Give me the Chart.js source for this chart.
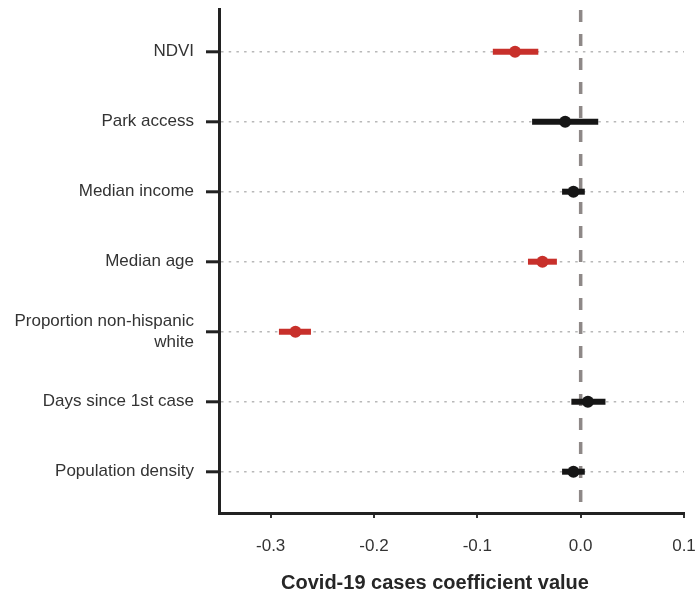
<!DOCTYPE html>
<html><head><meta charset="utf-8">
<script src="https://cdn.jsdelivr.net/npm/chart.js@4/dist/chart.umd.min.js"></script>
<style>html,body{margin:0;padding:0;background:#fff}canvas{display:block}</style>
</head><body>
<canvas id="c" width="696" height="604"></canvas>
<script>
const categories = ["NDVI", "Park access", "Median income", "Median age", ["Proportion non-hispanic", "white"], "Days since 1st case", "Population density"];
const estimates = [-0.0635, -0.015, -0.007, -0.037, -0.276, 0.007, -0.007];
const lowerCI   = [-0.085, -0.047, -0.018, -0.051, -0.292, -0.009, -0.018];
const upperCI   = [-0.041, 0.017, 0.004, -0.023, -0.261, 0.024, 0.004];
const significant = [true, false, false, true, true, false, false];
const xTicks = [-0.3, -0.2, -0.1, 0.0, 0.1];
const xTitle = "Covid-19 cases coefficient value";

const RED = '#c8302b', BLACK = '#161616', TXT = '#333333';
const FONT = "'Liberation Sans', Arial, sans-serif";

const pts = estimates.map((v, i) => ({x: v, y: i + 1}));
const colors = significant.map(s => s ? RED : BLACK);

const drawPlugin = {
  id: 'forest',
  beforeDatasetsDraw(chart) {
    const {ctx, chartArea, scales: {x, y}} = chart;
    ctx.save();
    const x0 = x.getPixelForValue(0);
    ctx.strokeStyle = '#8e8887';
    ctx.lineWidth = 3.5;
    ctx.setLineDash([12, 12]);
    ctx.beginPath();
    ctx.moveTo(x0, chartArea.top + 1);
    ctx.lineTo(x0, chartArea.bottom);
    ctx.stroke();
    ctx.setLineDash([]);
    ctx.lineWidth = 6;
    ctx.lineCap = 'butt';
    estimates.forEach((v, i) => {
      const yy = y.getPixelForValue(i + 1);
      ctx.strokeStyle = colors[i];
      ctx.beginPath();
      ctx.moveTo(x.getPixelForValue(lowerCI[i]), yy);
      ctx.lineTo(x.getPixelForValue(upperCI[i]), yy);
      ctx.stroke();
    });
    ctx.restore();
  },
  afterDraw(chart) {
    const {ctx} = chart;
    ctx.save();
    ctx.fillStyle = '#262626';
    ctx.font = "bold 20px " + FONT;
    ctx.textAlign = 'center';
    ctx.textBaseline = 'middle';
    ctx.fillText(xTitle, 435, 583);
    ctx.restore();
  }
};

new Chart(document.getElementById('c'), {
  type: 'scatter',
  data: {
    datasets: [{
      data: pts,
      pointRadius: 6,
      pointHoverRadius: 6,
      pointBackgroundColor: colors,
      pointBorderColor: colors,
      pointBorderWidth: 0
    }]
  },
  options: {
    responsive: false,
    animation: false,
    events: [],
    layout: {padding: {top: 9, right: 12, left: 0, bottom: 0}},
    plugins: {legend: {display: false}, tooltip: {enabled: false}},
    scales: {
      x: {
        type: 'linear',
        min: -0.35, max: 0.1,
        afterBuildTicks: s => { s.ticks = xTicks.map(v => ({value: v})); },
        afterFit: s => { s.height = 91; s.paddingLeft = 0; s.paddingRight = 0; },
        ticks: {
          callback: v => Number(v).toFixed(1),
          color: TXT,
          font: {family: FONT, size: 17},
          padding: 18,
          maxRotation: 0
        },
        grid: {drawOnChartArea: false, tickLength: 5, tickColor: '#333', tickWidth: 2, lineWidth: 2},
        border: {display: true, color: '#222', width: 3}
      },
      y: {
        type: 'linear',
        reverse: true,
        min: 0.39, max: 7.59,
        afterBuildTicks: s => { s.ticks = categories.map((c, i) => ({value: i + 1})); },
        afterFit: s => { s.width = 219; s.paddingTop = 0; s.paddingBottom = 0; },
        ticks: {
          callback: v => categories[Math.round(v) - 1],
          color: TXT,
          font: {family: FONT, size: 17, lineHeight: 1.25},
          padding: 12
        },
        grid: {
          drawOnChartArea: true,
          color: '#b8b8b8',
          lineWidth: 1.6,
          tickColor: '#222',
          tickWidth: 3,
          tickBorderDash: [],
          tickLength: 13
        },
        border: {display: true, color: '#222', width: 3, dash: [2.5, 5.2]}
      }
    }
  },
  plugins: [drawPlugin]
});
</script>
</body></html>
